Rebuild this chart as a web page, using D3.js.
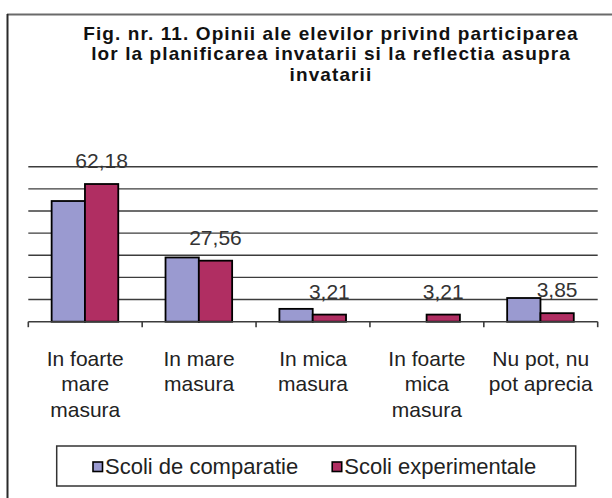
<!DOCTYPE html>
<html>
<head>
<meta charset="utf-8">
<script src="https://cdn.jsdelivr.net/npm/d3@7"></script>
<style>
  html, body { margin: 0; padding: 0; background: #fff; }
  svg { display: block; font-family: "Liberation Sans", Arial, sans-serif; }
</style>
</head>
<body>
<svg id="chart" width="612" height="498"></svg>
<script>
// ---- data ----
const titleLines = [
  "Fig. nr. 11. Opinii ale elevilor privind participarea",
  "lor la planificarea invatarii si la reflectia asupra",
  "invatarii"
];
const categories = [
  ["In foarte", "mare", "masura"],
  ["In  mare", "masura"],
  ["In  mica", "masura"],
  ["In foarte", "mica", "masura"],
  ["Nu pot, nu", "pot aprecia"]
];
const seriesNames = ["Scoli de comparatie", "Scoli experimentale"];
const comparatie = [54.5, 29.0, 5.8, 0, 10.7];
const experimentale = [62.18, 27.56, 3.21, 3.21, 3.85];
const yTicks = [0, 10, 20, 30, 40, 50, 60, 70];
const colors = ["#9a9ad0", "#b02e62"];

// ---- layout ----
const svg = d3.select("#chart");
const plot = { left: 28.3, right: 597.7, top: 166.7, bottom: 321.7 };

const catIds = categories.map((d, i) => i);
const xCat = d3.scaleBand().domain(catIds).range([plot.left, plot.right]).padding(0);
const step = xCat.bandwidth();
const xSer = d3.scaleBand().domain([0, 1]).range([step * 0.205, step * 0.79]).padding(0);
const y = d3.scaleLinear().domain([0, 70]).range([plot.bottom, plot.top]);

// outer frame (top & left edges visible)
svg.append("line").attr("x1", 7).attr("x2", 612).attr("y1", 14.5).attr("y2", 14.5)
  .attr("stroke", "#6a6a6a").attr("stroke-width", 2);
svg.append("line").attr("x1", 7.5).attr("x2", 7.5).attr("y1", 14).attr("y2", 498)
  .attr("stroke", "#2a2a2a").attr("stroke-width", 2);

// title
svg.append("g").selectAll("text").data(titleLines).join("text")
  .attr("x", 331).attr("y", (d, i) => 39.5 + i * 20.6)
  .attr("text-anchor", "middle")
  .attr("font-size", 19).attr("font-weight", "bold").attr("fill", "#111")
  .attr("letter-spacing", 1.1)
  .text(d => d);

// gridlines
svg.append("g").selectAll("line").data(yTicks.filter(t => t > 0)).join("line")
  .attr("x1", plot.left).attr("x2", plot.right)
  .attr("y1", d => y(d)).attr("y2", d => y(d))
  .attr("stroke", "#3c3c3c").attr("stroke-width", 1.4);

// bars
const seriesData = [comparatie, experimentale];
const groups = svg.append("g").selectAll("g").data(catIds).join("g")
  .attr("transform", i => `translate(${xCat(i)},0)`);
groups.selectAll("rect")
  .data(i => seriesData.map((s, k) => ({ k, v: s[i] })).filter(d => d.v > 0))
  .join("rect")
  .attr("x", d => xSer(d.k))
  .attr("width", xSer.bandwidth())
  .attr("y", d => y(d.v))
  .attr("height", d => y(0) - y(d.v))
  .attr("fill", d => colors[d.k])
  .attr("stroke", "#000").attr("stroke-width", 1.8);

// value labels (experimental series)
groups.append("text")
  .attr("x", xSer(1) + xSer.bandwidth() / 2)
  .attr("y", i => y(experimentale[i]) - 16)
  .attr("text-anchor", "middle")
  .attr("font-size", 21).attr("fill", "#333")
  .text(i => d3.format(".2f")(experimentale[i]).replace(".", ","));

// x axis line and ticks
svg.append("line").attr("x1", plot.left).attr("x2", plot.right)
  .attr("y1", plot.bottom).attr("y2", plot.bottom)
  .attr("stroke", "#3c3c3c").attr("stroke-width", 1.6);
const boundaries = catIds.map(i => xCat(i)).concat([xCat(catIds.length - 1) + step]);
svg.append("g").selectAll("line").data(boundaries).join("line")
  .attr("x1", d => d).attr("x2", d => d)
  .attr("y1", plot.bottom).attr("y2", plot.bottom + 5.5)
  .attr("stroke", "#3c3c3c").attr("stroke-width", 1.6);

// category labels
const lab = svg.append("g").selectAll("text").data(catIds).join("text")
  .attr("text-anchor", "middle")
  .attr("font-size", 21).attr("fill", "#222")
  .attr("transform", i => `translate(${xCat(i) + step / 2},365.7)`);
lab.selectAll("tspan").data(i => categories[i]).join("tspan")
  .attr("x", 0).attr("y", (d, j) => j * 25.5)
  .text(d => d);

// legend
svg.append("rect").attr("x", 56.7).attr("y", 446).attr("width", 519).attr("height", 40)
  .attr("fill", "none").attr("stroke", "#333").attr("stroke-width", 1.5);
let lx = 93;
seriesNames.forEach((name, k) => {
  svg.append("rect").attr("x", lx).attr("y", 462).attr("width", 9.5).attr("height", 9.5)
    .attr("fill", colors[k]).attr("stroke", "#000").attr("stroke-width", 1.6);
  const t = svg.append("text").attr("x", lx + 12).attr("y", 474)
    .attr("font-size", 22).attr("fill", "#222").text(name);
  lx = lx + 12 + t.node().getComputedTextLength() + 34;
});
</script>
</body>
</html>
